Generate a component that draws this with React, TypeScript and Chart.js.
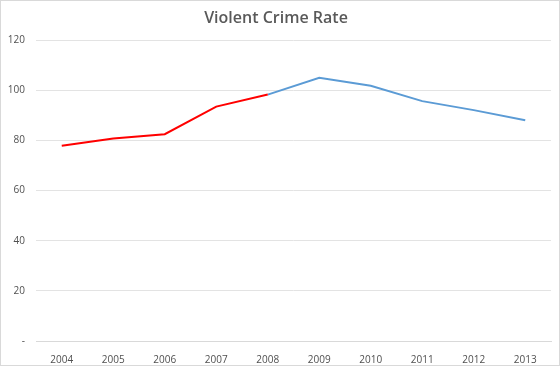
import React, { useEffect, useRef } from "react";
import { Chart, registerables } from "chart.js";

Chart.register(...registerables);

const years = ["2004", "2005", "2006", "2007", "2008", "2009", "2010", "2011", "2012", "2013"];
const redValues = [77.9, 80.8, 82.5, 93.5, 98.3, null, null, null, null, null];
const blueValues = [null, null, null, null, 98.3, 105.0, 101.8, 95.7, 92.1, 88.1];
const yTicks = [0, 20, 40, 60, 80, 100, 120];
const titleText = "Violent Crime Rate";

export default function App() {
  const ref = useRef<HTMLCanvasElement | null>(null);
  useEffect(() => {
    document.body.style.margin = "0";
    const ctx = ref.current!;
    const chart = new Chart(ctx, {
      type: "line",
      data: {
        labels: years,
        datasets: [
          { label: "a", data: redValues, borderColor: "#FF0000", borderWidth: 2, pointRadius: 0, tension: 0, spanGaps: false },
          { label: "b", data: blueValues, borderColor: "#5B9BD5", borderWidth: 2, pointRadius: 0, tension: 0, spanGaps: false },
        ],
      },
      options: {
        animation: false,
        responsive: true,
        maintainAspectRatio: false,
        layout: { padding: { right: 8, left: 0, top: 0, bottom: 0 } },
        plugins: {
          legend: { display: false },
          tooltip: { enabled: false },
          title: {
            display: true,
            text: titleText,
            color: "#595959",
            font: { family: "Open Sans", size: 16, weight: "600" },
            padding: { top: 8, bottom: 12 },
          },
        },
        scales: {
          x: {
            offset: true,
            grid: { display: false },
            border: { display: true, color: "#d9d9d9" },
            ticks: { color: "#505050", font: { family: "Open Sans", size: 10, weight: "500" }, padding: 5, maxRotation: 0 },
            afterFit: (s: any) => { s.height = 24; },
          },
          y: {
            min: 0,
            max: 120,
            afterBuildTicks: (s: any) => { s.ticks = yTicks.map((v) => ({ value: v })); },
            grid: { color: "#e3e3e3", drawTicks: false },
            border: { display: false },
            ticks: {
              color: "#505050",
              font: { family: "Open Sans", size: 10, weight: "500" },
              padding: 11,
              callback: (v: any) => (v === 0 ? "-" : String(v)),
            },
            afterFit: (s: any) => { s.width = 35; },
          },
        },
      },
    });
    return () => chart.destroy();
  }, []);
  return (
    <div style={{ width: 560, height: 366, boxSizing: "border-box", border: "1px solid #d9d9d9", background: "#fff", position: "relative" }}>
      <canvas ref={ref} />
    </div>
  );
}
